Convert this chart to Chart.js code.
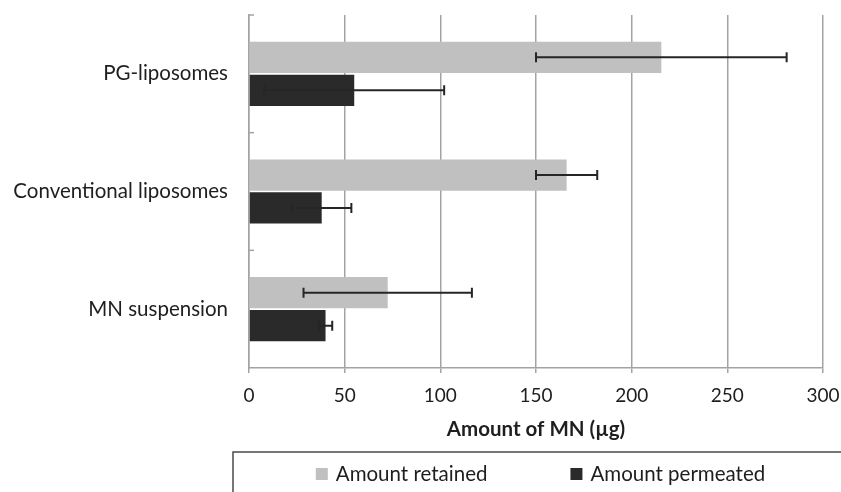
<!DOCTYPE html>
<html>
<head>
<meta charset="utf-8">
<script src="https://cdn.jsdelivr.net/npm/chart.js@4.4.1/dist/chart.umd.min.js"></script>
<style>
  html, body { margin: 0; padding: 0; background: #ffffff; }
  #wrap { width: 841px; height: 492px; position: relative; }
</style>
</head>
<body>
<div id="wrap"><canvas id="c" width="841" height="492"></canvas></div>
<script>
// ---- data ----
const categories = ['PG-liposomes', 'Conventional liposomes', 'MN suspension'];
const seriesNames = ['Amount retained', 'Amount permeated'];
const retained = [215.5, 166, 72.5];
const retainedErr = [65.5, 16, 44];
const permeated = [55, 38, 40];
const permeatedErr = [47, 15.5, 3.5];
const xTickValues = [0, 50, 100, 150, 200, 250, 300];
const xTitle = 'Amount of MN (\u00b5g)';

const FONT = 'Lato, "Open Sans", sans-serif';
const GRID = '#a3a3a3';
const TEXT = '#1e1e1e';

const errorBars = {
  id: 'errorBars',
  afterDatasetsDraw(chart) {
    const ctx = chart.ctx;
    const xs = chart.scales.x;
    ctx.save();
    ctx.strokeStyle = '#262626';
    ctx.lineWidth = 2;
    chart.data.datasets.forEach((ds, i) => {
      const meta = chart.getDatasetMeta(i);
      meta.data.forEach((el, j) => {
        const v = ds.data[j], e = ds.errors[j];
        const x1 = xs.getPixelForValue(v - e), x2 = xs.getPixelForValue(v + e);
        const y = el.y;
        ctx.beginPath();
        ctx.moveTo(x1, y); ctx.lineTo(x2, y);
        ctx.moveTo(x1, y - 5); ctx.lineTo(x1, y + 5);
        ctx.moveTo(x2, y - 5); ctx.lineTo(x2, y + 5);
        ctx.stroke();
      });
    });
    ctx.restore();
  }
};

const extras = {
  id: 'extras',
  afterDraw(chart) {
    const ctx = chart.ctx;
    const ys = chart.scales.y;
    const area = chart.chartArea;
    ctx.save();
    // inside tick marks on category axis (category boundaries)
    ctx.strokeStyle = GRID;
    ctx.lineWidth = 1.5;
    const n = categories.length;
    for (let i = 0; i < n; i++) {
      const yb = ys.top + i * (ys.bottom - ys.top) / n;
      ctx.beginPath();
      ctx.moveTo(area.left, yb);
      ctx.lineTo(area.left + 5, yb);
      ctx.stroke();
    }
    // legend box
    const boxL = 233, boxT = 452, boxR = 848;
    ctx.strokeStyle = '#4a4a4a';
    ctx.lineWidth = 1.5;
    ctx.strokeRect(boxL, boxT, boxR - boxL, 100);
    ctx.font = '20.5px ' + FONT;
    ctx.textBaseline = 'middle';
    ctx.textAlign = 'left';
    const sq = 12, gapT = 8, gapI = 83;
    const items = chart.data.datasets.map(d => ({ label: d.label, color: d.backgroundColor, w: ctx.measureText(d.label).width }));
    let total = 0;
    items.forEach((it, k) => { total += sq + gapT + it.w + (k < items.length - 1 ? gapI : 0); });
    let x = (boxL + boxR) / 2 - total / 2;
    const yc = 474;
    items.forEach(it => {
      ctx.fillStyle = it.color;
      ctx.fillRect(x, yc - sq / 2, sq, sq);
      x += sq + gapT;
      ctx.fillStyle = TEXT;
      ctx.fillText(it.label, x, yc);
      x += it.w + gapI;
    });
    ctx.restore();
  }
};

new Chart(document.getElementById('c'), {
  type: 'bar',
  data: {
    labels: categories,
    datasets: [
      { label: seriesNames[0], data: retained, errors: retainedErr, backgroundColor: '#c0c0c0',
        categoryPercentage: 0.56, barPercentage: 0.95 },
      { label: seriesNames[1], data: permeated, errors: permeatedErr, backgroundColor: '#2a2a2a',
        categoryPercentage: 0.56, barPercentage: 0.95 }
    ]
  },
  options: {
    indexAxis: 'y',
    responsive: false,
    animation: false,
    devicePixelRatio: 1,
    layout: { padding: { left: 0, top: 15, right: 18, bottom: 50 } },
    plugins: { legend: { display: false }, tooltip: { enabled: false } },
    scales: {
      x: {
        min: 0, max: 300,
        afterBuildTicks(scale) { scale.ticks = xTickValues.map(v => ({ value: v })); },
        afterFit(scale) { scale.height = 74; scale.paddingLeft = 0; scale.paddingRight = 0; },
        grid: { color: GRID, lineWidth: 1.5, drawTicks: true, tickLength: 5, tickColor: GRID },
        border: { display: true, color: GRID, width: 1.5 },
        ticks: { color: TEXT, font: { family: FONT, size: 19 }, padding: 11 },
        title: { display: true, text: xTitle, color: TEXT,
                 font: { family: FONT, size: 20.5, weight: 'bold' }, padding: { top: 10, bottom: 0 } }
      },
      y: {
        afterFit(scale) { scale.width = 249; scale.paddingTop = 0; scale.paddingBottom = 0; },
        grid: { display: false, drawTicks: false },
        border: { display: true, color: GRID, width: 1.5 },
        ticks: { color: TEXT, font: { family: FONT, size: 20.5 }, padding: 21 }
      }
    }
  },
  plugins: [errorBars, extras]
});
</script>
</body>
</html>
